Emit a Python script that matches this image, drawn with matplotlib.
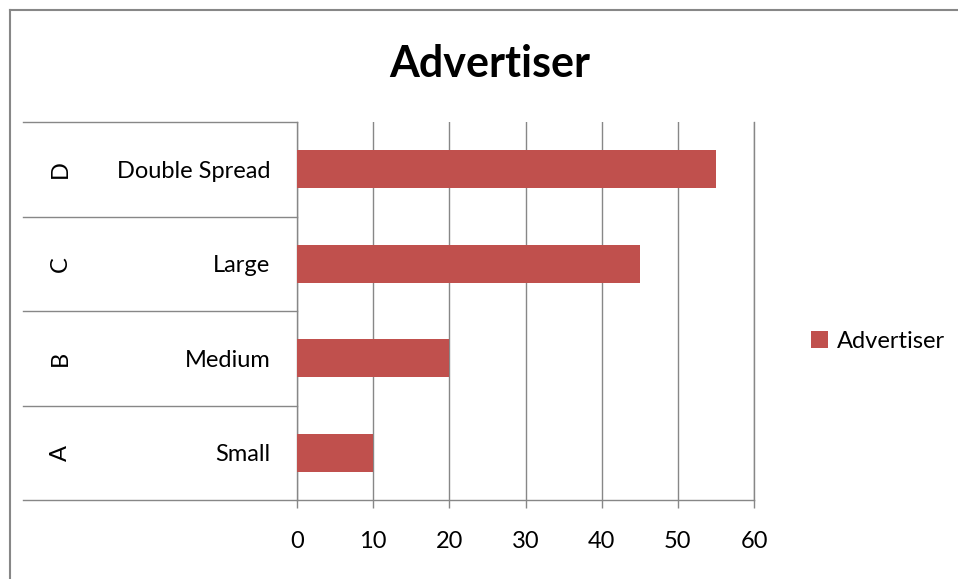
import matplotlib.pyplot as plt
import matplotlib.transforms as mtransforms
from matplotlib.lines import Line2D

plt.rcParams['font.family'] = ['Lato', 'DejaVu Sans']

codes = ['A', 'B', 'C', 'D']
sizes = ['Small', 'Medium', 'Large', 'Double Spread']
advertiser = [10, 20, 45, 55]
xticks = [0, 10, 20, 30, 40, 50, 60]

bar_color = '#C0504D'
line_color = '#878787'
fs = 17

fig = plt.figure(figsize=(9.58, 5.79), dpi=100)
ax = fig.add_axes([297 / 958, 1 - 500 / 579, 457 / 958, 378 / 579])

pos = range(len(sizes))
ax.barh(pos, advertiser, height=0.4, color=bar_color, label='Advertiser', zorder=3)

ax.set_xlim(0, 60)
ax.set_ylim(-0.5, len(sizes) - 0.5)
ax.set_xticks(xticks)
ax.set_xticklabels([str(t) for t in xticks], fontsize=fs)
ax.tick_params(axis='x', direction='out', length=6, width=1, color=line_color, pad=16)
ax.grid(axis='x', color=line_color, linewidth=1, zorder=0)

ax.set_yticks(list(pos))
ax.set_yticklabels(sizes, fontsize=fs)
ax.tick_params(axis='y', length=0, pad=19)

ax.spines['top'].set_visible(False)
for side in ['left', 'bottom', 'right']:
    ax.spines[side].set_color(line_color)
    ax.spines[side].set_linewidth(1)

# multi-level category axis: separators and outer codes
trans = mtransforms.blended_transform_factory(fig.transFigure, ax.transData)
x0 = 23 / 958
x1 = 297 / 958
for k in range(len(sizes) + 1):
    y = k - 0.5
    fig.add_artist(Line2D([x0, x1], [y, y], transform=trans, color=line_color, linewidth=1))
for p, code in zip(pos, codes):
    fig.text(60 / 958, p, code, transform=trans, rotation=90, ha='center', va='center', fontsize=fs)

fig.text(490 / 958, 1 - 64 / 579, 'Advertiser', ha='center', va='center',
         fontsize=31, fontweight='bold')

fig.legend(loc='center left', bbox_to_anchor=(790 / 958, 1 - 341 / 579), frameon=False,
           fontsize=fs, handlelength=0.7, handleheight=0.7, handletextpad=0.4)

# chart frame
fig.add_artist(Line2D([10 / 958, 10 / 958], [0, 1 - 10 / 579], color=line_color, linewidth=1.5))
fig.add_artist(Line2D([10 / 958, 1], [1 - 10 / 579, 1 - 10 / 579], color=line_color, linewidth=1.5))

fig.savefig('out.png', dpi=100)
